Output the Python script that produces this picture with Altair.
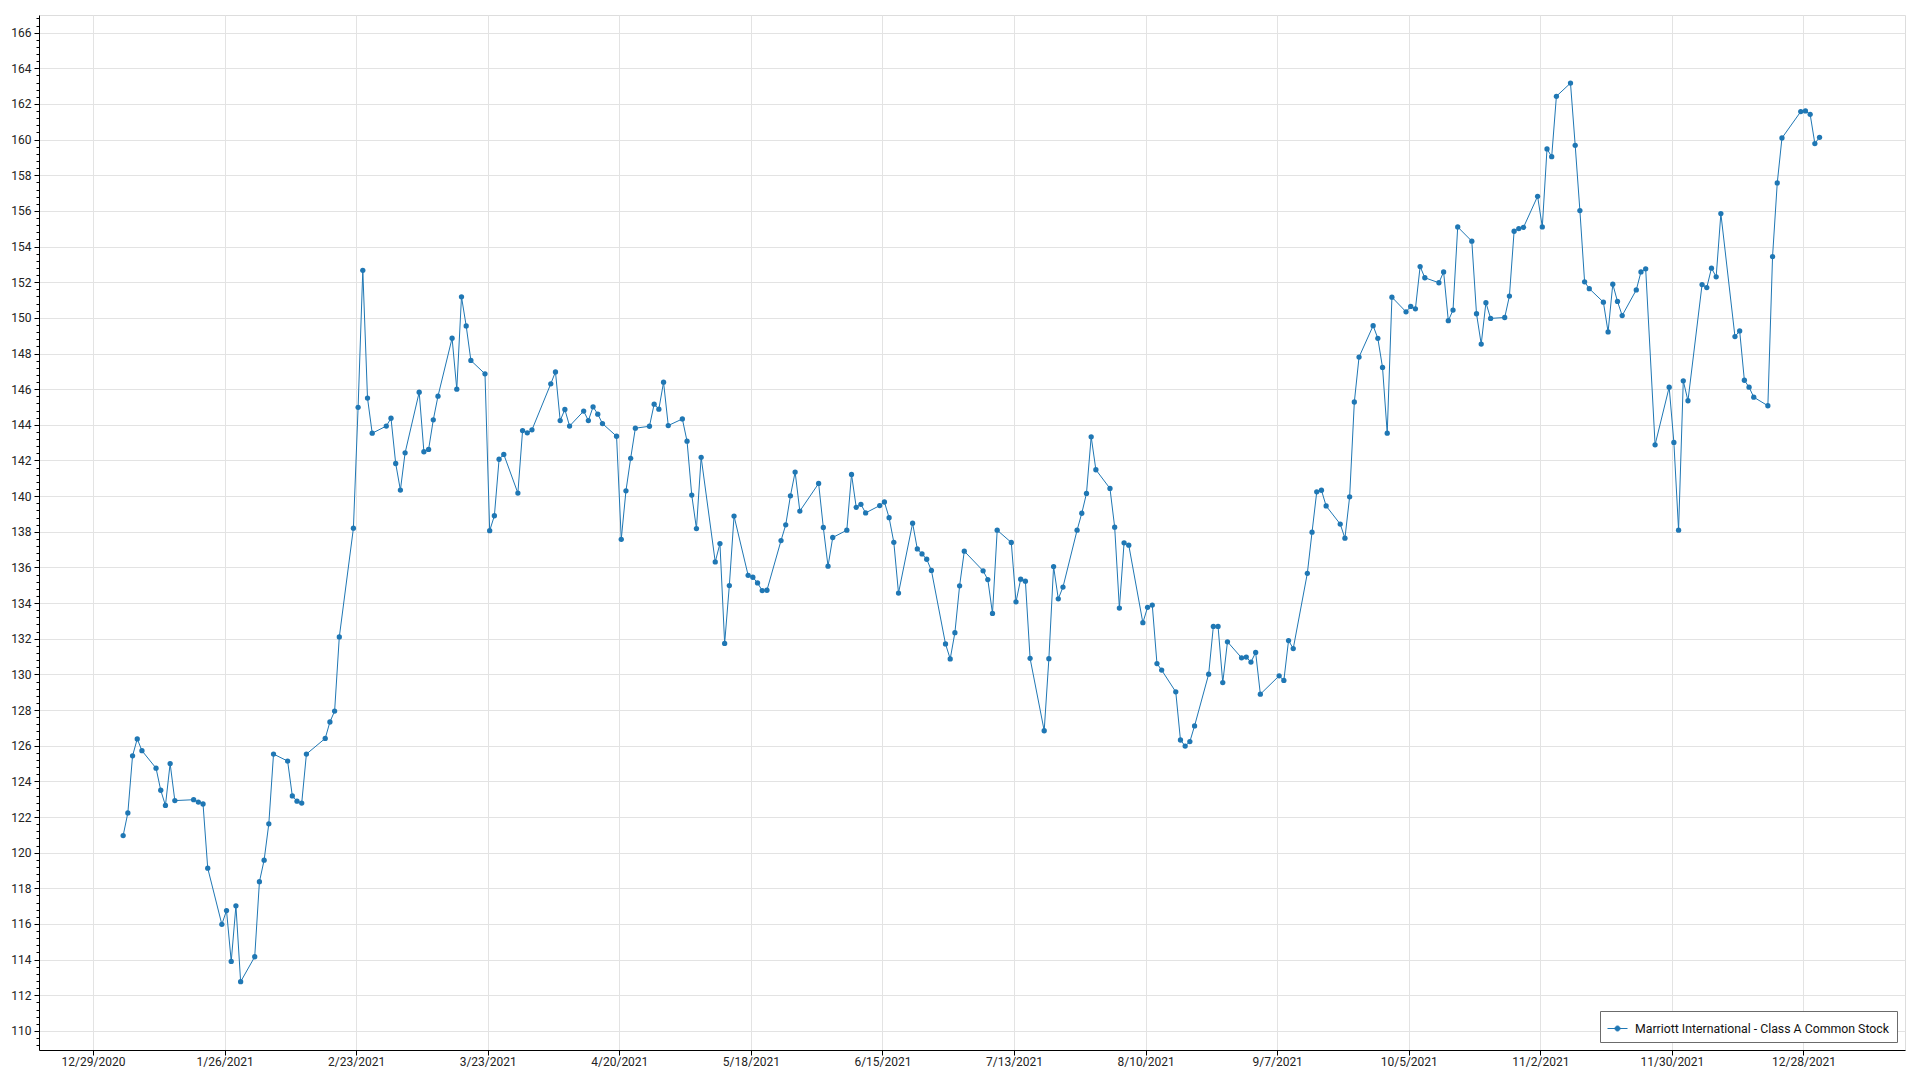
import altair as alt
import pandas as pd

SERIES = "Marriott International - Class A Common Stock"
BLUE = "#1f77b4"
FONT = "Roboto"

# Trading days (day of month) and closing prices, per month of 2021
jan_days = [4, 5, 6, 7, 8, 11, 12, 13, 14, 15, 19, 20, 21, 22, 25, 26, 27, 28, 29]
jan_close = [120.96, 122.23, 125.43, 126.38, 125.72, 124.74, 123.5, 122.65, 125.0, 122.92,
             122.97, 122.84, 122.73, 119.13, 115.98, 116.75, 113.9, 117.02, 112.76]
feb_days = [1, 2, 3, 4, 5, 8, 9, 10, 11, 12, 16, 17, 18, 19, 22, 23, 24, 25, 26]
feb_close = [114.16, 118.37, 119.58, 121.62, 125.53, 125.14, 123.18, 122.89, 122.78, 125.53,
             126.41, 127.33, 127.94, 132.1, 138.2, 144.98, 152.67, 145.5, 143.53]
mar_days = [1, 2, 3, 4, 5, 8, 9, 10, 11, 12, 15, 16, 17, 18, 19, 22, 23, 24, 25, 26, 29, 30, 31]
mar_close = [143.93, 144.37, 141.83, 140.34, 142.43, 145.83, 142.49, 142.62, 144.28, 145.61,
             148.86, 146.0, 151.18, 149.55, 147.61, 146.86, 138.06, 138.9, 142.07, 142.34,
             140.17, 143.68, 143.55]
apr_days = [1, 5, 6, 7, 8, 9, 12, 13, 14, 15, 16, 19, 20, 21, 22, 23, 26, 27, 28, 29, 30]
apr_close = [143.72, 146.3, 146.97, 144.24, 144.86, 143.93, 144.77, 144.24, 145.01, 144.6,
             144.07, 143.36, 137.58, 140.3, 142.12, 143.81, 143.92, 145.16, 144.88, 146.39, 143.96]
may_days = [3, 4, 5, 6, 7, 10, 11, 12, 13, 14, 17, 18, 19, 20, 21, 24, 25, 26, 27, 28]
may_close = [144.33, 143.08, 140.06, 138.18, 142.18, 136.31, 137.34, 131.74, 134.98, 138.88,
             135.56, 135.45, 135.13, 134.7, 134.72, 137.51, 138.39, 140.02, 141.35, 139.16]
jun_days = [1, 2, 3, 4, 7, 8, 9, 10, 11, 14, 15, 16, 17, 18, 21, 22, 23, 24, 25, 28, 29, 30]
jun_close = [140.71, 138.24, 136.07, 137.68, 138.09, 141.22, 139.37, 139.54, 139.06, 139.47,
             139.67, 138.79, 137.41, 134.56, 138.48, 137.04, 136.76, 136.46, 135.83, 131.71,
             130.87, 132.34]
jul_days = [1, 2, 6, 7, 8, 9, 12, 13, 14, 15, 16, 19, 20, 21, 22, 23, 26, 27, 28, 29, 30]
jul_close = [134.97, 136.91, 135.81, 135.32, 133.42, 138.09, 137.4, 134.07, 135.34, 135.23,
             130.9, 126.84, 130.88, 136.05, 134.24, 134.9, 138.09, 139.04, 140.15, 143.33, 141.48]
aug_days = [2, 3, 4, 5, 6, 9, 10, 11, 12, 13, 16, 17, 18, 19, 20, 23, 24, 25, 26, 27, 30, 31]
aug_close = [140.43, 138.26, 133.72, 137.38, 137.25, 132.9, 133.76, 133.89, 130.61, 130.24,
             129.02, 126.32, 125.98, 126.23, 127.11, 130.01, 132.69, 132.69, 129.54, 131.83,
             130.93, 130.97]
sep_days = [1, 2, 3, 7, 8, 9, 10, 13, 14, 15, 16, 17, 20, 21, 22, 23, 24, 27, 28, 29, 30]
sep_close = [130.69, 131.23, 128.89, 129.92, 129.66, 131.9, 131.45, 135.67, 137.98, 140.24,
             140.33, 139.45, 138.43, 137.64, 139.96, 145.28, 147.8, 149.56, 148.85, 147.22, 143.53]
oct_days = [1, 4, 5, 6, 7, 8, 11, 12, 13, 14, 15, 18, 19, 20, 21, 22, 25, 26, 27, 28, 29]
oct_close = [151.16, 150.34, 150.64, 150.51, 152.88, 152.25, 151.97, 152.58, 149.84, 150.44,
             155.1, 154.3, 150.23, 148.53, 150.85, 149.97, 150.02, 151.22, 154.86, 155.01, 155.08]
nov_days = [1, 2, 3, 4, 5, 8, 9, 10, 11, 12, 15, 16, 17, 18, 19, 22, 23, 24, 26, 29, 30]
nov_close = [156.82, 155.1, 159.48, 159.04, 162.43, 163.17, 159.68, 156.02, 152.02, 151.64,
             150.88, 149.21, 151.89, 150.92, 150.13, 151.57, 152.58, 152.75, 142.88, 146.11, 143.01]
dec_days = [1, 2, 3, 6, 7, 8, 9, 10, 13, 14, 15, 16, 17, 20, 21, 22, 23, 27, 28, 29, 30, 31]
dec_close = [138.09, 146.47, 145.35, 151.87, 151.7, 152.79, 152.3, 155.85, 148.95, 149.27,
             146.5, 146.11, 145.55, 145.07, 153.44, 157.57, 160.09, 161.57, 161.61, 161.42,
             159.78, 160.13]

# Axis tick labels
x_tick_dates = ["2020-12-29", "2021-01-26", "2021-02-23", "2021-03-23", "2021-04-20",
                "2021-05-18", "2021-06-15", "2021-07-13", "2021-08-10", "2021-09-07",
                "2021-10-05", "2021-11-02", "2021-11-30", "2021-12-28"]
y_ticks = list(range(110, 168, 2))
y_minor = [round(109.2 + 0.4 * i, 1) for i in range(0, 146)]

months = [
    (1, jan_days, jan_close), (2, feb_days, feb_close), (3, mar_days, mar_close),
    (4, apr_days, apr_close), (5, may_days, may_close), (6, jun_days, jun_close),
    (7, jul_days, jul_close), (8, aug_days, aug_close), (9, sep_days, sep_close),
    (10, oct_days, oct_close), (11, nov_days, nov_close), (12, dec_days, dec_close),
]
rows = []
for m, days, closes in months:
    for d, c in zip(days, closes):
        rows.append({"date": f"2021-{m:02d}-{d:02d}T10:00:00", "close": c, "series": SERIES})
df = pd.DataFrame(rows)


def dt(s, hours=0, minutes=0):
    y, mo, d = (int(p) for p in s.split("-"))
    return alt.DateTime(year=y, month=mo, date=d, hours=hours, minutes=minutes)


x_scale = alt.Scale(domain=[dt("2020-12-17", 12, 14), dt("2022-01-18", 14, 24)], nice=False)
y_scale = alt.Scale(domain=[108.93, 166.99], nice=False, zero=False)

GRID = "#e3e3e3"
x_enc = alt.X(
    "date:T",
    scale=x_scale,
    axis=alt.Axis(
        values=[dt(s) for s in x_tick_dates], format="%-m/%-d/%Y", title=None,
        labelFont=FONT, labelFontSize=12, labelColor="#222", labelPadding=1,
        labelOverlap=False, labelFlush=False,
        tickSize=5, tickColor="black", domainColor="black",
        grid=True, gridColor=GRID, gridWidth=1,
    ),
)

PATH = "M-1,0H1M-0.25,0A0.25,0.25,0,1,1,0.25,0A0.25,0.25,0,1,1,-0.25,0Z"

base = alt.Chart(df)
line = base.mark_line(
    strokeWidth=1,
    point=alt.OverlayMarkDef(filled=True, size=28, opacity=1),
).encode(
    x=x_enc,
    y=alt.Y(
        "close:Q", scale=y_scale,
        axis=alt.Axis(
            values=y_ticks, format="d", title=None,
            labelFont=FONT, labelFontSize=12, labelColor="#222", labelPadding=3,
            tickSize=5, tickColor="black", domainColor="black",
            grid=True, gridColor=GRID, gridWidth=1,
        ),
    ),
    color=alt.Color(
        "series:N",
        scale=alt.Scale(range=[BLUE]),
        legend=alt.Legend(
            title=None, orient="bottom-right", offset=8, padding=7,
            strokeColor="#6b6b6b", fillColor="white", cornerRadius=0,
            symbolType=PATH, symbolSize=400, symbolStrokeWidth=1,
            symbolFillColor=BLUE, symbolStrokeColor=BLUE,
            labelFont=FONT, labelFontSize=12.3, labelColor="#111",
            labelOffset=7, labelLimit=500,
        ),
    ),
)

minor = base.mark_point(opacity=0).encode(
    x=x_enc,
    y=alt.Y(
        "close:Q", scale=y_scale,
        axis=alt.Axis(
            values=y_minor, labels=False, grid=False, domain=False,
            tickSize=3, tickColor="black", orient="left", title=None,
        ),
    ),
)

chart = (
    alt.layer(line, minor)
    .resolve_axis(y="independent")
    .properties(
        width=1866, height=1035,
        autosize=alt.AutoSizeParams(type="none"),
        padding={"left": 31, "top": 7, "right": 5, "bottom": 18},
    )
    .configure_view(stroke="black", strokeWidth=1)
    .configure(background="white")
)

chart.save("out.html", embed_options={"renderer": "svg", "actions": False})
